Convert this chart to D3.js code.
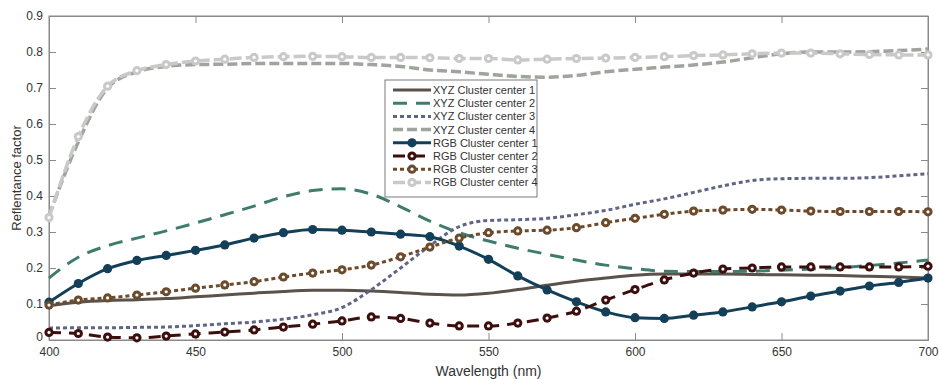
<!DOCTYPE html>
<html>
<head>
<meta charset="utf-8">
<script src="https://cdn.jsdelivr.net/npm/d3@7"></script>
<style>
  body { margin: 0; background: #fff; }
  svg text { font-family: "Liberation Sans", Arial, sans-serif; fill: #333; }
  .narrow { font-family: "Liberation Sans Narrow", "Liberation Sans", Arial, sans-serif; }
</style>
</head>
<body>
<svg id="chart" width="939" height="379"></svg>
<script>
// Wavelengths (nm), one sample every 10 nm
let wavelengths = d3.range(400, 701, 10);

let xyz1 = [0.095,0.105,0.110,0.112,0.115,0.120,0.125,0.130,0.135,0.138,0.138,0.136,0.132,0.127,0.125,0.130,0.140,0.152,0.163,0.172,0.180,0.183,0.183,0.183,0.182,0.181,0.180,0.179,0.177,0.175,0.172];
let xyz2 = [0.172,0.230,0.262,0.283,0.303,0.325,0.348,0.372,0.398,0.415,0.420,0.405,0.370,0.330,0.298,0.275,0.255,0.238,0.222,0.208,0.198,0.191,0.190,0.190,0.191,0.194,0.197,0.201,0.207,0.214,0.222];
let xyz3 = [0.033,0.034,0.034,0.035,0.036,0.040,0.045,0.050,0.058,0.070,0.090,0.140,0.200,0.262,0.315,0.332,0.334,0.338,0.348,0.360,0.377,0.392,0.410,0.428,0.443,0.448,0.449,0.449,0.451,0.456,0.462];
let xyz4 = [0.345,0.550,0.700,0.745,0.760,0.765,0.766,0.768,0.768,0.768,0.768,0.765,0.760,0.750,0.745,0.738,0.732,0.730,0.735,0.745,0.752,0.758,0.764,0.772,0.784,0.795,0.800,0.800,0.801,0.804,0.808];
let rgb1 = [0.105,0.157,0.198,0.221,0.235,0.249,0.264,0.283,0.298,0.307,0.305,0.300,0.294,0.287,0.261,0.224,0.178,0.139,0.106,0.078,0.062,0.060,0.069,0.078,0.092,0.106,0.122,0.136,0.150,0.160,0.172];
let rgb2 = [0.021,0.018,0.008,0.006,0.011,0.017,0.022,0.028,0.036,0.044,0.053,0.064,0.060,0.047,0.039,0.039,0.047,0.061,0.080,0.111,0.140,0.167,0.186,0.197,0.200,0.203,0.203,0.203,0.203,0.203,0.205];
let rgb3 = [0.097,0.111,0.117,0.125,0.134,0.144,0.153,0.162,0.175,0.186,0.195,0.208,0.231,0.258,0.283,0.298,0.303,0.305,0.312,0.326,0.338,0.349,0.358,0.361,0.363,0.361,0.358,0.357,0.357,0.357,0.356];
let rgb4 = [0.340,0.565,0.705,0.748,0.765,0.775,0.780,0.785,0.787,0.788,0.787,0.785,0.785,0.784,0.782,0.782,0.778,0.780,0.782,0.783,0.785,0.787,0.790,0.792,0.795,0.797,0.797,0.795,0.793,0.792,0.792];

let xTicks = [400, 450, 500, 550, 600, 650, 700];
let yTicks = [0, 0.1, 0.2, 0.3, 0.4, 0.5, 0.6, 0.7, 0.8, 0.9];

let series = [
    {name: 'XYZ Cluster center 1', values: xyz1, color: '#5a524b', dash: null, width: 3},
    {name: 'XYZ Cluster center 2', values: xyz2, color: '#407c6e', dash: '14,9', width: 3},
    {name: 'XYZ Cluster center 3', values: xyz3, color: '#606585', dash: '4,3', width: 3},
    {name: 'XYZ Cluster center 4', values: xyz4, color: '#9ea59c', dash: '10,4', width: 3.5},
    {name: 'RGB Cluster center 1', values: rgb1, color: '#133f58', dash: null, width: 3, marker: 'fill'},
    {name: 'RGB Cluster center 2', values: rgb2, color: '#3c0f0e', dash: '12,8', width: 3, marker: 'open'},
    {name: 'RGB Cluster center 3', values: rgb3, color: '#6c4b2c', dash: '4,3', width: 3, marker: 'open'},
    {name: 'RGB Cluster center 4', values: rgb4, color: '#c9c9c9', dash: '12,4', width: 3.5, marker: 'open'}
];

let margin = {left: 49, right: 11, top: 16, bottom: 39},
    width = 939 - margin.left - margin.right,
    height = 379 - margin.top - margin.bottom;

let svg = d3.select('#chart'),
    g = svg.append('g').attr('transform', 'translate(' + margin.left + ',' + margin.top + ')');

let x = d3.scaleLinear().domain([400, 700]).range([0, width]),
    y = d3.scaleLinear().domain([0, 0.9]).range([height, 0]);

// Axes with inward ticks on all four sides
let tick = 7;
g.append('g').attr('transform', 'translate(0,' + height + ')')
    .call(d3.axisBottom(x).tickValues(xTicks).tickSize(-tick).tickPadding(7).tickFormat(d3.format('d')))
    .call(a => a.selectAll('text').attr('class', 'narrow').attr('font-size', 12));
g.append('g')
    .call(d3.axisTop(x).tickValues(xTicks).tickSize(-tick).tickFormat(''));
g.append('g')
    .call(d3.axisLeft(y).tickValues(yTicks).tickSize(-tick).tickPadding(6).tickFormat(d => d === 0 ? '0' : d3.format('.1f')(d)))
    .call(a => a.selectAll('text').attr('font-size', 12))
    .call(a => a.selectAll('.tick').filter(d => d === 0).select('text').attr('dy', '0.05em'));
g.append('g').attr('transform', 'translate(' + width + ',0)')
    .call(d3.axisRight(y).tickValues(yTicks).tickSize(-tick).tickFormat(''));
g.selectAll('.domain, .tick line').attr('stroke', '#8a8a8a');
g.selectAll('.tick text').attr('fill', '#333');
g.append('rect').attr('width', width).attr('height', height)
    .attr('fill', 'none').attr('stroke', '#8a8a8a');

// Lines
let line = d3.line()
    .x((d, i) => x(wavelengths[i]))
    .y(d => y(d))
    .curve(d3.curveMonotoneX);

series.forEach(s => {
    g.append('path')
        .attr('d', line(s.values))
        .attr('fill', 'none')
        .attr('stroke', s.color)
        .attr('stroke-width', s.width)
        .attr('stroke-dasharray', s.dash);
    if (s.marker) {
        let m = g.append('g').selectAll('g')
            .data(s.values)
            .enter().append('g')
            .attr('transform', (d, i) => 'translate(' + x(wavelengths[i]) + ',' + y(d) + ')');
        m.append('circle').attr('r', 4.6).attr('fill', s.color);
        if (s.marker === 'open') {
            m.append('circle').attr('r', 1.6).attr('fill', '#fff');
        }
    }
});

// Legend
let legend = svg.append('g').attr('transform', 'translate(385,80)');
legend.append('rect').attr('width', 152).attr('height', 117)
    .attr('fill', '#fff').attr('stroke', '#7a7a7a');
series.forEach((s, i) => {
    let row = legend.append('g').attr('transform', 'translate(0,' + (10 + i * 13.2) + ')');
    row.append('line')
        .attr('x1', 8).attr('x2', 46)
        .attr('stroke', s.color)
        .attr('stroke-width', s.width)
        .attr('stroke-dasharray', s.dash);
    if (s.marker) {
        row.append('circle').attr('cx', 27).attr('r', 4.6).attr('fill', s.color);
        if (s.marker === 'open') row.append('circle').attr('cx', 27).attr('r', 1.6).attr('fill', '#fff');
    }
    row.append('text').attr('x', 48).attr('y', 4).attr('font-size', 11).attr('fill', '#222').text(s.name);
});

// Axis titles
svg.append('text').attr('class', 'narrow')
    .attr('x', margin.left + width / 2).attr('y', 376)
    .attr('text-anchor', 'middle').attr('font-size', 14)
    .text('Wavelength (nm)');
svg.append('text')
    .attr('transform', 'translate(21,' + (margin.top + height / 2) + ') rotate(-90)')
    .attr('text-anchor', 'middle').attr('font-size', 13)
    .text('Reflentance factor');
</script>
</body>
</html>
